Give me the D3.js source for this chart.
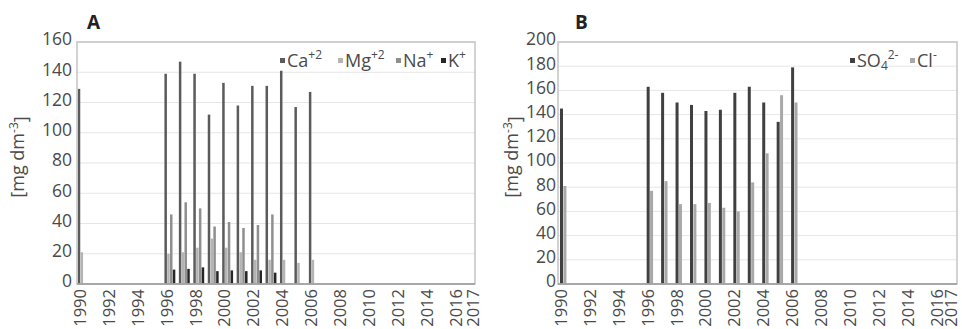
<!DOCTYPE html>
<html><head><meta charset="utf-8">
<script src="https://cdn.jsdelivr.net/npm/d3@7/dist/d3.min.js"></script>
<style>body{margin:0;background:#fff}svg{display:block}text{font-family:"Open Sans",sans-serif}</style>
</head><body>
<svg id="c" width="962" height="329"></svg>
<script>
const years = [1990, 1996, 1997, 1998, 1999, 2000, 2001, 2002, 2003, 2004, 2005, 2006];
const ca  = [129, 139, 147, 139, 112, 133, 118, 131, 131, 141, 117, 127];
const mg  = [21, 20, 21, 24, 30, 24, 21, 16, 16, 16, 14, 16];
const na  = [null, 46, 54, 50, 38, 41, 37, 39, 46, null, null, null];
const k   = [null, 9.5, 10, 11, 8.5, 9, 8.5, 9, 7.5, null, null, null];
const so4 = [145, 163, 158, 150, 148, 143, 144, 158, 163, 150, 134, 179];
const cl  = [81, 77, 85, 66, 66, 67, 63, 60, 84, 108, 156, 150];
const xTickLabels = [1990, 1992, 1994, 1996, 1998, 2000, 2002, 2004, 2006, 2008, 2010, 2012, 2014, 2016, 2017];
const yTicksA = [0, 20, 40, 60, 80, 100, 120, 140, 160];
const yTicksB = [0, 20, 40, 60, 80, 100, 120, 140, 160, 180, 200];

const svg = d3.select("#c");
const textCol = "#4a4a4a";

function panel(cfg) {
  const g = svg.append("g");
  const x = d3.scaleLinear().domain([1990, 2017]).range([cfg.x0 + 3, cfg.x0 + 393]);
  const y = d3.scaleLinear().domain([0, cfg.ymax]).range([284, 42]);
  g.append("g").selectAll("line").data(cfg.yTicks.slice(1)).join("line")
    .attr("x1", cfg.x0).attr("x2", cfg.x1).attr("y1", d => y(d)).attr("y2", d => y(d))
    .attr("stroke", "#e6e6e6").attr("stroke-width", 1);
  g.append("g").selectAll("text").data(cfg.yTicks).join("text")
    .attr("x", cfg.ylabX).attr("y", d => y(d) - 3).attr("dy", "0.36em")
    .attr("text-anchor", "end").attr("font-size", 17.5).attr("fill", textCol).text(d => d);
  cfg.series.forEach((s, si) => {
    g.append("g").selectAll("rect").data(years.map((yr, i) => ({yr, v: s.values[i]})).filter(d => d.v != null))
      .join("rect")
      .attr("x", d => x(d.yr) + cfg.off + si * cfg.step - cfg.bw / 2)
      .attr("width", cfg.bw)
      .attr("y", d => y(d.v)).attr("height", d => y(0) - y(d.v))
      .attr("fill", s.color);
  });
  g.append("rect").attr("x", cfg.x0).attr("y", 42).attr("width", cfg.x1 - cfg.x0).attr("height", 242)
    .attr("fill", "none").attr("stroke", "#c4c4c4").attr("stroke-width", 1.5);
  g.append("line").attr("x1", cfg.x0).attr("x2", cfg.x1).attr("y1", 284).attr("y2", 284)
    .attr("stroke", "#9a9a9a").attr("stroke-width", 1.5);
  g.append("g").selectAll("text").data(xTickLabels).join("text")
    .attr("transform", d => `translate(${x(d) + (d === 2017 ? cfg.lastShift : 0)},289) rotate(-90)`)
    .attr("dy", "0.36em").attr("text-anchor", "end")
    .attr("font-size", 16.5).attr("fill", textCol).text(d => d);
  const yt = g.append("text").attr("transform", `translate(${cfg.ytX},157) rotate(-90)`)
    .attr("text-anchor", "middle").attr("dy", "0.35em").attr("font-size", 18).attr("fill", textCol);
  yt.append("tspan").text("[mg dm");
  yt.append("tspan").attr("dy", "-0.5em").attr("font-size", 12).text("-3");
  yt.append("tspan").attr("dy", "0.5em").text("]");
  g.append("text").attr("x", cfg.titleX).attr("y", 29).attr("font-size", 19).attr("font-weight", "bold")
    .attr("fill", "#222").text(cfg.title);
  cfg.series.forEach((s, si) => {
    const lx = cfg.legX[si];
    g.append("rect").attr("x", lx).attr("y", 58).attr("width", 5).attr("height", 5).attr("fill", s.color);
    const t = g.append("text").attr("x", lx + 7).attr("y", 67).attr("font-size", 18).attr("fill", textCol);
    t.append("tspan").text(s.name);
    if (s.sub) t.append("tspan").attr("font-size", 12).attr("dy", 3).text(s.sub);
    if (s.sup) t.append("tspan").attr("font-size", 12).attr("dy", s.sub ? -11 : -8).text(s.sup);
  });
}

panel({
  x0: 77, x1: 475, ymax: 160, yTicks: yTicksA, ylabX: 72, ytX: 18, title: "A", titleX: 87,
  legX: [280, 338, 396, 441], lastShift: 3,
  off: -1, step: 2.8, bw: 2.5,
  series: [
    {name: "Ca", sup: "+2", values: ca, color: "#5b5b5b"},
    {name: "Mg", sup: "+2", values: mg, color: "#b4b4b4"},
    {name: "Na", sup: "+", values: na, color: "#8f8f8f"},
    {name: "K", sup: "+", values: k, color: "#262626"}
  ]
});
panel({
  x0: 558, x1: 957, ymax: 200, yTicks: yTicksB, ylabX: 556, ytX: 512, title: "B", titleX: 575,
  legX: [850, 910], lastShift: 0,
  off: 0.5, step: 3.4, bw: 3,
  series: [
    {name: "SO", sub: "4", sup: "2-", values: so4, color: "#404040"},
    {name: "Cl", sup: "-", values: cl, color: "#a8a8a8"}
  ]
});
</script>
</body></html>
